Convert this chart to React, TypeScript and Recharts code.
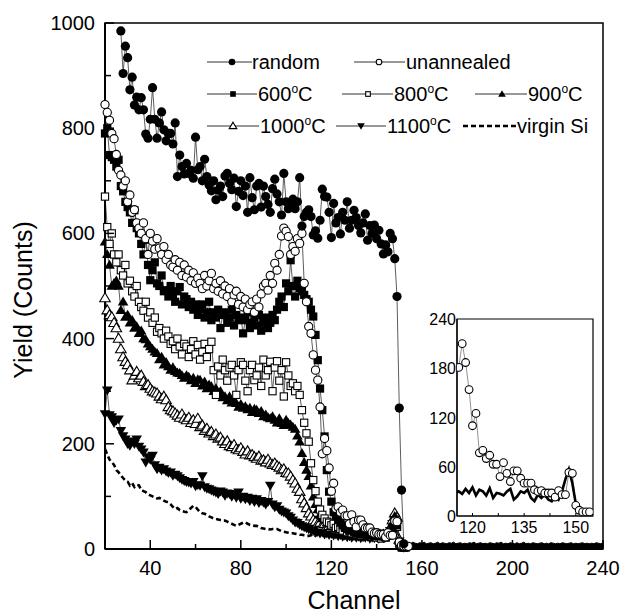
import React from "react";
import { ComposedChart, Line, Area, XAxis, YAxis, ReferenceArea } from "recharts";

const FONT = "'Liberation Sans', Arial, Helvetica, sans-serif";

// ---- data (one value per channel) ----
const randomStart = 27;
const randomYield = [
  985, 904, 956, 934, 873, 897, 844, 859, 835, 858,
  835, 789, 781, 817, 877, 817, 781, 810, 831, 797,
  776, 790, 790, 770, 810, 708, 749, 727, 713, 733,
  714, 720, 705, 783, 721, 727, 700, 741, 708, 692,
  681, 700, 664, 682, 690, 670, 709, 714, 695, 683,
  705, 651, 680, 700, 672, 690, 640, 706, 668, 645,
  690, 695, 650, 690, 670, 655, 640, 685, 703, 675,
  660, 635, 714, 660, 647, 655, 665, 647, 660, 706,
  614, 632, 640, 645, 632, 597, 605, 591, 625, 684,
  670, 669, 640, 592, 657, 620, 630, 599, 640, 625,
  660, 610, 625, 644, 630, 615, 601, 620, 637, 587,
  615, 600, 616, 590, 606, 580, 561, 578, 565, 600,
  590, 552, 480, 268, 112, 10,
];

const unannealedStart = 20;
const unannealedYield = [
  845, 830, 815, 790, 780, 750, 720, 711, 690, 700,
  660, 673, 640, 645, 620, 610, 600, 620, 590, 560,
  600, 585, 570, 590, 572, 560, 575, 550, 560, 540,
  536, 550, 530, 545, 520, 540, 517, 530, 510, 525,
  505, 515, 505, 495, 520, 500, 510, 524, 495, 505,
  490, 510, 485, 500, 480, 495, 470, 483, 490, 465,
  480, 460, 475, 455, 465, 470, 450, 475, 460, 485,
  500, 505, 492, 520, 505, 543, 530, 560, 595, 610,
  604, 594, 560, 575, 566, 590, 581, 600, 505, 470,
  423, 410, 369, 340, 321, 270, 181, 210, 187, 154,
  110, 125, 77, 80, 70, 74, 63, 63, 48, 65,
  52, 42, 55, 55, 46, 40, 40, 40, 32, 30,
  31, 28, 28, 28, 23, 31, 26, 26, 53, 52,
  13, 7, 5, 5, 5,
];

const t600Start = 20;
const t600Yield = [
  790, 800, 749, 745, 740, 727, 740, 690, 680, 660,
  650, 640, 620, 644, 610, 600, 580, 560, 588, 540,
  511, 530, 545, 505, 500, 520, 490, 492, 480, 500,
  485, 470, 490, 498, 465, 480, 475, 460, 470, 455,
  465, 445, 456, 465, 440, 450, 470, 435, 450, 440,
  455, 420, 445, 450, 430, 440, 455, 425, 445, 435,
  440, 410, 435, 450, 420, 430, 440, 425, 445, 415,
  430, 440, 420, 430, 445, 435, 455, 470, 480, 460,
  505, 490, 549, 500, 480, 510, 496, 490, 483, 475,
  470, 455, 442, 407, 359, 305, 264, 214, 150, 109,
  90, 70, 62, 55, 50, 45, 42, 38, 35, 40,
  33, 30, 35, 28, 30, 32, 26, 30, 28, 25,
  30, 24, 28, 25, 22, 28, 30, 40, 55, 45,
  12, 5, 3,
];

const t800Start = 20;
const t800Yield = [
  670, 612, 580, 600, 560, 545, 560, 530, 520, 540,
  505, 510, 490, 480, 500, 470, 460, 453, 470, 440,
  450, 430, 440, 413, 420, 410, 400, 415, 404, 390,
  395, 380, 400, 385, 370, 390, 385, 365, 380, 395,
  370, 388, 360, 375, 390, 365, 380, 394, 340, 293,
  347, 330, 360, 340, 320, 345, 350, 330, 293, 340,
  355, 350, 320, 300, 340, 350, 321, 330, 345, 310,
  360, 330, 340, 356, 300, 345, 357, 320, 340, 290,
  355, 330, 310, 315, 300, 310, 293, 264, 240, 220,
  204, 163, 131, 110, 90, 75, 65, 58, 52, 50,
  45, 48, 40, 42, 38, 35, 40, 32, 35, 30,
  33, 28, 30, 26, 30, 28, 25, 28, 24, 26,
  22, 25, 20, 24, 22, 25, 28, 38, 50, 42,
  10, 4, 3,
];

const t900Start = 20;
const t900Yield = [
  584, 560, 540, 500, 505, 510, 500, 454, 470, 441,
  445, 430, 435, 420, 423, 410, 415, 400, 398, 390,
  385, 380, 375, 372, 360, 365, 350, 355, 347, 340,
  345, 338, 335, 334, 330, 325, 330, 327, 320, 325,
  315, 322, 321, 310, 318, 305, 312, 309, 300, 305,
  295, 300, 288, 290, 282, 290, 278, 280, 277, 270,
  275, 268, 271, 265, 268, 260, 266, 264, 258, 262,
  252, 255, 250, 248, 252, 245, 240, 248, 239, 235,
  245, 239, 236, 232, 228, 215, 204, 182, 165, 150,
  138, 120, 99, 85, 75, 65, 58, 55, 50, 48,
  45, 42, 45, 40, 38, 42, 36, 38, 34, 36,
  32, 35, 30, 32, 28, 30, 27, 30, 25, 28,
  24, 27, 22, 26, 24, 28, 35, 50, 62, 55,
  15, 5, 3,
];

const t1000Start = 20;
const t1000Yield = [
  477, 454, 445, 441, 430, 420, 400, 380, 365, 356,
  350, 340, 321, 330, 337, 325, 330, 318, 310, 312,
  305, 300, 298, 296, 290, 285, 290, 283, 270, 264,
  262, 258, 254, 250, 256, 248, 245, 250, 240, 245,
  238, 248, 232, 235, 225, 229, 220, 223, 215, 218,
  210, 212, 205, 200, 205, 196, 194, 198, 190, 188,
  192, 185, 180, 186, 178, 179, 175, 172, 176, 168,
  169, 165, 170, 163, 160, 163, 158, 155, 150, 152,
  145, 144, 138, 131, 125, 115, 109, 95, 87, 78,
  68, 62, 55, 52, 48, 50, 45, 48, 42, 44,
  40, 43, 38, 40, 36, 38, 35, 37, 33, 36,
  32, 34, 30, 33, 29, 32, 28, 30, 27, 29,
  26, 28, 25, 27, 26, 30, 40, 55, 68, 60,
  18, 6, 3,
];

const t1100Start = 20;
const t1100Yield = [
  257, 302, 255, 251, 240, 245, 247, 225, 215, 209,
  200, 197, 205, 200, 209, 195, 190, 184, 165, 175,
  170, 178, 160, 152, 155, 150, 152, 148, 145, 146,
  140, 142, 139, 135, 132, 130, 128, 127, 125, 128,
  120, 122, 121, 139, 118, 115, 114, 112, 110, 108,
  105, 110, 108, 102, 106, 105, 100, 104, 98, 108,
  96, 100, 95, 98, 92, 96, 90, 95, 88, 92,
  89, 85, 90, 121, 85, 80, 82, 75, 72, 70,
  68, 63, 60, 55, 51, 50, 46, 44, 42, 40,
  38, 36, 35, 32, 33, 30, 32, 28, 30, 27,
  29, 26, 28, 25, 27, 24, 26, 23, 25, 22,
  25, 22, 24, 21, 23, 22, 24, 20, 22, 21,
  23, 20, 22, 21, 24, 26, 35, 48, 58, 50,
  15, 5, 3,
];

const virginStart = 20;
const virginYield = [
  190, 180, 170, 165, 160, 150, 146, 140, 135, 130,
  128, 121, 125, 118, 122, 121, 112, 110, 108, 104,
  102, 100, 98, 96, 97, 95, 92, 90, 89, 85,
  80, 76, 78, 74, 72, 71, 70, 74, 78, 82,
  80, 75, 70, 68, 67, 65, 62, 60, 58, 57,
  56, 55, 54, 54, 52, 50, 48, 46, 44, 46,
  48, 50, 51, 48, 46, 45, 44, 44, 42, 40,
  39, 38, 38, 37, 38, 38, 38, 36, 34, 33,
  32, 31, 30, 30, 29, 28, 27, 27, 26, 25,
  25, 26, 28, 25, 30, 28, 30, 27, 33, 28,
  35, 25, 32, 30, 25, 34, 22, 28, 27, 25,
  30, 33, 20, 24, 30, 28, 32, 22, 18, 26,
  22, 26, 20, 18, 25, 20, 30, 45, 57, 40,
  15, 5, 3, 2, 2, 3,
];

// background counts beyond the surface edge
const tailStart = 152;
const tailYield = [
  13, 11, 12, 10, 13, 11, 10, 12, 11, 13,
  10, 11, 12, 10, 11, 13, 10, 12, 11, 10,
  12, 11, 13, 10, 11, 12, 10, 11, 10, 12,
  11, 13, 10, 11, 12, 10, 11, 10, 12, 11,
  10, 12, 11, 13, 10, 11, 10, 12, 11, 10,
  12, 10, 11, 13, 10, 11, 10, 12, 11, 10,
  11, 12, 10, 11, 10, 12, 11, 10, 11, 10,
  12, 11, 10, 11, 12, 10, 11, 10, 11, 12,
  10, 11, 10, 11, 10, 12, 11, 10, 11,
];

const xTicks = [40, 60, 80, 100, 120, 140, 160, 180, 200, 220, 240];
const yTicks = [0, 100, 200, 300, 400, 500, 600, 700, 800, 900, 1000];
const insetXTicks = [120, 127.5, 135, 142.5, 150];
const insetYTicks = [0, 60, 120, 180, 240];

const toPoints = (start: number, vals: number[]) =>
  vals.map((v, i) => ({ ch: start + i, v }));

const randomPts = toPoints(randomStart, randomYield);
const unannealedPts = toPoints(unannealedStart, unannealedYield);
const p600 = toPoints(t600Start, t600Yield);
const p800 = toPoints(t800Start, t800Yield);
const p900 = toPoints(t900Start, t900Yield);
const p1000 = toPoints(t1000Start, t1000Yield);
const p1100 = toPoints(t1100Start, t1100Yield);
const virginPts = toPoints(virginStart, virginYield);
const tailPts = toPoints(tailStart, tailYield);

const insetCircles = unannealedPts.filter((p) => p.ch >= 116);
const insetLine = virginPts.filter((p) => p.ch >= 115);

type Shape = "circle" | "openCircle" | "square" | "openSquare" | "up" | "openUp" | "down";

const Marker = ({ shape, cx, cy, size = 1 }: { shape: Shape; cx: number; cy: number; size?: number }) => {
  if (cx == null || cy == null) return null;
  const r = 4.6 * size;
  switch (shape) {
    case "circle":
      return <circle cx={cx} cy={cy} r={r} fill="#000" />;
    case "openCircle":
      return <circle cx={cx} cy={cy} r={r - 0.5} fill="#fff" stroke="#000" strokeWidth={1.1} />;
    case "square":
      return <rect x={cx - r + 0.5} y={cy - r + 0.5} width={2 * r - 1} height={2 * r - 1} fill="#000" />;
    case "openSquare":
      return (
        <rect x={cx - r + 1} y={cy - r + 1} width={2 * r - 2} height={2 * r - 2}
          fill="#fff" stroke="#000" strokeWidth={1.1} />
      );
    case "up":
    case "openUp": {
      const pts = `${cx},${cy - r * 1.15} ${cx + r * 1.15},${cy + r * 0.8} ${cx - r * 1.15},${cy + r * 0.8}`;
      return shape === "up"
        ? <polygon points={pts} fill="#000" />
        : <polygon points={pts} fill="#fff" stroke="#000" strokeWidth={1.1} />;
    }
    case "down": {
      const pts = `${cx},${cy + r * 1.15} ${cx + r * 1.15},${cy - r * 0.8} ${cx - r * 1.15},${cy - r * 0.8}`;
      return <polygon points={pts} fill="#000" />;
    }
  }
  return null;
};

const dotFor = (shape: Shape, size = 1) => (p: any) => (
  <Marker key={`${shape}-${p.index}`} shape={shape} cx={p.cx} cy={p.cy} size={size} />
);

// ticks drawn inward, labels only on the major ones
const XTick = (p: any) => {
  const v = p.payload.value;
  const major = v % 40 === 0;
  return (
    <g>
      <line x1={p.x} x2={p.x} y1={p.y} y2={p.y - (major ? 9 : 5)} stroke="#000" strokeWidth={1.5} />
      {major && (
        <text x={p.x} y={p.y + 26} textAnchor="middle" fontSize={20} fontFamily={FONT} fill="#000">
          {v}
        </text>
      )}
    </g>
  );
};

const YTick = (p: any) => {
  const v = p.payload.value;
  const major = v % 200 === 0;
  return (
    <g>
      <line x1={p.x} x2={p.x + (major ? 9 : 6)} y1={p.y} y2={p.y} stroke="#000" strokeWidth={1.5} />
      {major && (
        <text x={p.x - 10} y={p.y + 7} textAnchor="end" fontSize={20} fontFamily={FONT} fill="#000">
          {v}
        </text>
      )}
    </g>
  );
};

const InsetXTick = (p: any) => {
  const v = p.payload.value;
  const labelled = v % 15 === 0;
  return (
    <g>
      <line x1={p.x} x2={p.x} y1={p.y} y2={p.y - 3} stroke="#000" strokeWidth={1} />
      {labelled && (
        <text x={p.x} y={p.y + 17} textAnchor="middle" fontSize={16} fontFamily={FONT} fill="#000">
          {v}
        </text>
      )}
    </g>
  );
};

const InsetYTick = (p: any) => (
  <text x={p.x - 1} y={p.y + 6} textAnchor="end" fontSize={16} fontFamily={FONT} fill="#000">
    {p.payload.value}
  </text>
);

const lineProps = {
  dataKey: "v",
  stroke: "#333",
  strokeWidth: 0.8,
  activeDot: false,
  isAnimationActive: false,
  legendType: "none" as const,
};

const Deg = ({ t }: { t: string }) => (
  <>
    {t}
    <tspan fontSize={12} dy={-8}>o</tspan>
    <tspan dy={8}>C</tspan>
  </>
);

const legendItems: { shape: Shape | "dash"; label: string; deg: boolean; x1: number; x2: number; mx: number; y: number; tx: number }[] = [
  { shape: "circle", label: "random", deg: false, x1: 207, x2: 252, mx: 232, y: 62, tx: 252 },
  { shape: "openCircle", label: "unannealed", deg: false, x1: 354, x2: 405, mx: 379, y: 62, tx: 406 },
  { shape: "square", label: "600", deg: true, x1: 207, x2: 257, mx: 233, y: 94, tx: 258 },
  { shape: "openSquare", label: "800", deg: true, x1: 342, x2: 393, mx: 368, y: 94, tx: 394 },
  { shape: "up", label: "900", deg: true, x1: 475, x2: 527, mx: 502, y: 94, tx: 528 },
  { shape: "openUp", label: "1000", deg: true, x1: 207, x2: 259, mx: 233, y: 126, tx: 260 },
  { shape: "down", label: "1100", deg: true, x1: 336, x2: 386, mx: 361, y: 126, tx: 387 },
  { shape: "dash", label: "virgin Si", deg: false, x1: 463, x2: 516, mx: 0, y: 126, tx: 517 },
];

const Overlay = () => (
  <svg width={623} height={616} style={{ position: "absolute", left: 0, top: 0, pointerEvents: "none" }}>
    {legendItems.map((it) => (
      <g key={it.label}>
        {it.shape === "dash" ? (
          <line x1={it.x1} x2={it.x2} y1={it.y} y2={it.y} stroke="#000" strokeWidth={2.5} strokeDasharray="5 3" />
        ) : (
          <>
            <line x1={it.x1} x2={it.x2} y1={it.y} y2={it.y} stroke="#333" strokeWidth={1} />
            <Marker shape={it.shape} cx={it.mx} cy={it.y} size={0.72} />
          </>
        )}
        <text x={it.tx} y={it.y + 7} fontSize={20} fontFamily={FONT} fill="#000">
          {it.deg ? <Deg t={it.label} /> : it.label}
        </text>
      </g>
    ))}
    <text x={354} y={609} textAnchor="middle" fontSize={25} fontFamily={FONT} fill="#000">
      Channel
    </text>
    <text transform="translate(32,300) rotate(-90)" textAnchor="middle" fontSize={25} fontFamily={FONT} fill="#000">
      Yield (Counts)
    </text>
  </svg>
);

const Inset = () => (
  <div style={{ position: "absolute", left: 420, top: 305, width: 177, height: 235 }}>
    <ComposedChart width={177} height={235} margin={{ top: 14, right: 4, bottom: 2, left: 0 }}>
      <ReferenceArea x1={115.5} x2={155} y1={0} y2={240} fill="#fff" fillOpacity={1} stroke="#000" strokeWidth={1.2} />
      <XAxis
        type="number"
        dataKey="ch"
        domain={[115.5, 155]}
        ticks={insetXTicks}
        interval={0}
        allowDataOverflow
        height={22}
        tickSize={0}
        tickMargin={0}
        tickLine={false}
        axisLine={{ stroke: "#000", strokeWidth: 1.2 }}
        tick={InsetXTick}
      />
      <YAxis
        type="number"
        domain={[0, 240]}
        ticks={insetYTicks}
        interval={0}
        width={37}
        tickSize={0}
        tickMargin={0}
        tickLine={false}
        axisLine={{ stroke: "#000", strokeWidth: 1.2 }}
        tick={InsetYTick}
      />
      <Line data={insetCircles} {...lineProps} stroke="#777" strokeWidth={0.8} dot={dotFor("openCircle", 0.95)} />
      <Line data={insetLine} {...lineProps} stroke="#000" strokeWidth={2.6} dot={false} />
    </ComposedChart>
  </div>
);

export default function App() {
  return (
    <div style={{ position: "absolute", left: 0, top: 0, width: 623, height: 616, background: "#fff" }}>
      <ComposedChart width={623} height={616} margin={{ top: 23, right: 20, bottom: 27, left: 45 }}>
        <ReferenceArea x1={20} x2={240} y1={0} y2={1000} fill="none" stroke="#000" strokeWidth={1.5} />
        <XAxis
          type="number"
          dataKey="ch"
          domain={[20, 240]}
          ticks={xTicks}
          interval={0}
          height={40}
          tickSize={0}
          tickMargin={0}
          tickLine={false}
          axisLine={{ stroke: "#000", strokeWidth: 2 }}
          tick={XTick}
        />
        <YAxis
          type="number"
          domain={[0, 1000]}
          ticks={yTicks}
          interval={0}
          width={60}
          tickSize={0}
          tickMargin={0}
          tickLine={false}
          axisLine={{ stroke: "#000", strokeWidth: 2 }}
          tick={YTick}
        />
        <Area data={tailPts} dataKey="v" stroke="#000" strokeWidth={1} fill="#000" fillOpacity={1}
          isAnimationActive={false} dot={false} activeDot={false} legendType="none" />
        <Line data={virginPts} {...lineProps} stroke="#000" strokeWidth={2.6} strokeDasharray="5 3" dot={false} />
        <Line data={p1100} {...lineProps} dot={dotFor("down")} />
        <Line data={p1000} {...lineProps} dot={dotFor("openUp")} />
        <Line data={p900} {...lineProps} dot={dotFor("up")} />
        <Line data={p800} {...lineProps} dot={dotFor("openSquare")} />
        <Line data={p600} {...lineProps} dot={dotFor("square")} />
        <Line data={unannealedPts} {...lineProps} dot={dotFor("openCircle")} />
        <Line data={randomPts} {...lineProps} dot={dotFor("circle")} />
      </ComposedChart>
      <Inset />
      <Overlay />
    </div>
  );
}
